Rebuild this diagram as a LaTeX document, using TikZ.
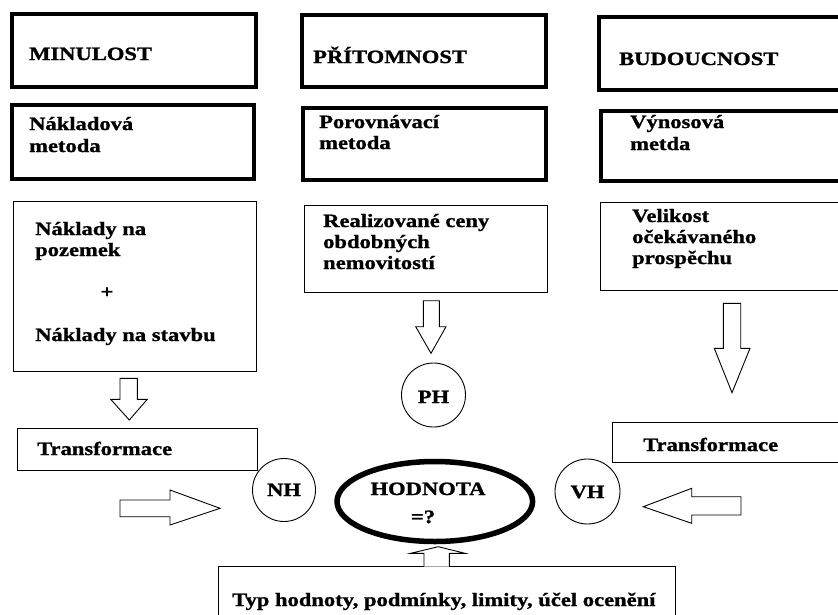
\documentclass[tikz,border=0pt]{standalone}
\usepackage{fontspec}
\setmainfont{Liberation Serif}[FakeStretch=1.2, BoldFeatures={FakeBold=1.2}]
\tikzset{
  lbl/.style={inner sep=0pt, anchor=base west, font=\fontsize{18.8}{21}\selectfont\bfseries},
  clbl/.style={inner sep=0pt, anchor=base, font=\fontsize{18.8}{21}\selectfont\bfseries},
  thickbox/.style={draw, line width=4pt},
  thinbox/.style={draw, line width=1pt},
  blockarrow/.style={draw, line width=0.9pt, fill=white, line join=miter},
  ring/.style={draw, line width=0.9pt, circle, inner sep=0pt},
}
\begin{document}
\begin{tikzpicture}[x=1pt,y=-1pt]
\useasboundingbox (0,0) rectangle (838,614);
\clip (0,0) rectangle (838,614);
\fill[white] (0,0) rectangle (838,614);

% boxes
\draw[thickbox] (11.7,13.8) rectangle (256,87);
\draw[thickbox] (11.7,104.5) rectangle (254,179);
\draw[thinbox] (13.3,201.7) rectangle (256,371.7);
\draw[thinbox] (17.3,428.3) rectangle (257,470);

\draw[thickbox] (301.7,15) rectangle (546,87);
\draw[thickbox] (303.3,108) rectangle (546,180);
\draw[thinbox] (304,205.7) rectangle (547.3,292.3);

\draw[thickbox] (598.8,17) rectangle (850,89.5);
\draw[thickbox] (600.5,110.5) rectangle (850,180.5);
\draw[thinbox] (600.7,202.3) rectangle (850,290);
\draw[thinbox] (612.3,422.7) rectangle (850,462.7);

\draw[thinbox] (218.3,566.7) rectangle (675,640);

% texts
\node[lbl] (tmin) at (29,60) {MINULOST};
\node[lbl] (tnak1) at (29,130) {Nákladová};
\node[lbl] (tnak2) at (29,152) {metoda};
\node[lbl] (tnp1) at (35,235) {Náklady na};
\node[lbl] (tnp2) at (35,256) {pozemek};
\node[clbl] (tplus) at (107,298) {+};
\node[lbl] (tnp3) at (35,341) {Náklady na stavbu};
\node[lbl] (ttr1) at (37,455) {Transformace};

\node[lbl] (tpri) at (313,63) {PŘÍTOMNOST};
\node[lbl] (tpor1) at (319,128) {Porovnávací};
\node[lbl] (tpor2) at (319,149) {metoda};
\node[lbl] (treal1) at (323,227) {Realizované ceny};
\node[lbl] (treal2) at (323,248) {obdobných};
\node[lbl] (treal3) at (323,269) {nemovitostí};

\node[lbl] (tbud) at (619,65) {BUDOUCNOST};
\node[lbl] (tvyn1) at (630,128) {Výnosová};
\node[lbl] (tvyn2) at (630,150) {metda};
\node[lbl] (tvel1) at (632,222) {Velikost};
\node[lbl] (tvel2) at (632,243) {očekávaného};
\node[lbl] (tvel3) at (632,264) {prospěchu};
\node[lbl] (ttr2) at (643,451) {Transformace};

\node[lbl] (ttyp) at (232,606) {Typ hodnoty, podmínky, limity, účel ocenění};

% circles and ellipse
\node[ring, minimum size=63pt] (nh) at (284,490) {};
\node[clbl] at (284,496) {NH};
\node[ring, minimum size=64pt] (ph) at (433.5,395) {};
\node[clbl] at (433.5,403) {PH};
\node[ring, minimum size=65pt] (vh) at (587.5,491.5) {};
\node[clbl] at (587.5,498) {VH};
\draw[line width=5.5pt] (434.8,501.5) ellipse [x radius=97.8pt, y radius=40pt];
\node[clbl] (thod) at (428,495) {HODNOTA};
\node[clbl] (teq) at (423,523) {=?};

% block arrows
\draw[blockarrow] (120,378.3) -- (137.3,378.3) -- (137.3,399.3) -- (147.3,399.3) -- (129.3,420) -- (110.7,399.3) -- (120,399.3) -- cycle;
\draw[blockarrow] (423.3,300.7) -- (439.3,300.7) -- (439.3,326.7) -- (446,326.7) -- (431,353.3) -- (415.7,326.7) -- (423.3,326.7) -- cycle;
\draw[blockarrow] (723.3,303.3) -- (740.7,303.3) -- (740.7,348.3) -- (750,348.3) -- (732,392.7) -- (714.3,348.3) -- (723.3,348.3) -- cycle;
\draw[blockarrow] (120,500) -- (170,500) -- (170,490) -- (220,508.3) -- (170,525) -- (170,516.7) -- (120,516.7) -- cycle;
\draw[blockarrow] (741,496.7) -- (691.7,496.7) -- (691.7,488.3) -- (643.3,506.7) -- (691.7,523.3) -- (691.7,515) -- (741,515) -- cycle;
\draw[blockarrow] (424,566.7) -- (424,553.3) -- (410.7,553.3) -- (438.3,546.7) -- (465,553.3) -- (449.3,553.3) -- (449.3,566.7);
\end{tikzpicture}
\end{document}
